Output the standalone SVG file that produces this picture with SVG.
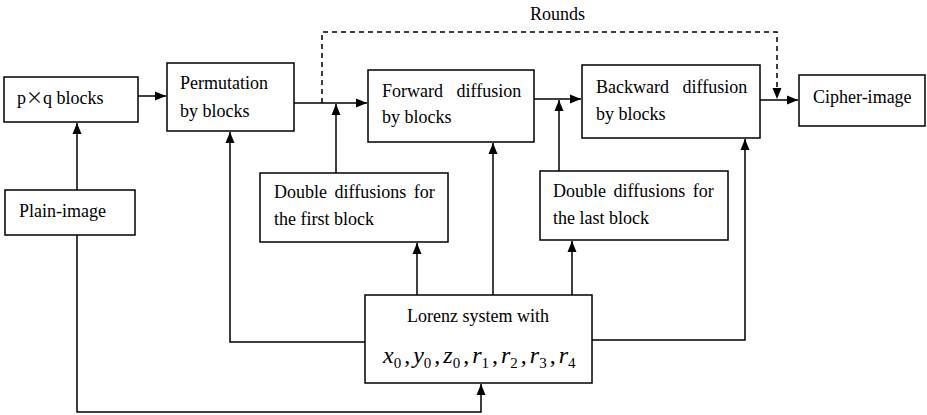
<svg xmlns="http://www.w3.org/2000/svg" width="927" height="415" viewBox="0 0 927 415">
<defs>
<marker id="ah" markerUnits="userSpaceOnUse" markerWidth="12" markerHeight="10" refX="11" refY="5" orient="auto">
<path d="M0,0.5 L11,5 L0,9.5 z" fill="#000"/>
</marker>
<style>
.box{fill:#fff;stroke:#000;stroke-width:1.5}
.ln{fill:none;stroke:#000;stroke-width:1.5}
.dash{fill:none;stroke:#000;stroke-width:1.5;stroke-dasharray:5 4}
text{font-family:'Liberation Serif','Times New Roman',serif;font-size:18px;fill:#000}
.sub{font-size:15px;font-style:normal}
.cm{font-style:normal}
</style>
</defs>
<rect width="927" height="415" fill="#fff"/>
<g id="connectors">
<path class="ln" d="M138,96 H166" marker-end="url(#ah)"/>
<path class="ln" d="M77,190 V123" marker-end="url(#ah)"/>
<path class="ln" d="M294,103 H367" marker-end="url(#ah)"/>
<path class="ln" d="M534,99 H581" marker-end="url(#ah)"/>
<path class="ln" d="M760,100 H798" marker-end="url(#ah)"/>
<path class="dash" d="M322,103 V32 H777 V99" marker-end="url(#ah)"/>
<path class="ln" d="M336,173 V104" marker-end="url(#ah)"/>
<path class="ln" d="M559,171 V100" marker-end="url(#ah)"/>
<path class="ln" d="M417,295 V243" marker-end="url(#ah)"/>
<path class="ln" d="M493,295 V143" marker-end="url(#ah)"/>
<path class="ln" d="M572,295 V241" marker-end="url(#ah)"/>
<path class="ln" d="M365,342 H230 V132" marker-end="url(#ah)"/>
<path class="ln" d="M592,340 H745 V139" marker-end="url(#ah)"/>
<path class="ln" d="M77,235 V412 H481 V384" marker-end="url(#ah)"/>
</g>
<text x="530" y="20">Rounds</text>
<g id="pq">
<rect class="box" x="4" y="77" width="134" height="45"/>
<text x="17" y="104">p<tspan style="font-family:'Noto Sans CJK SC',sans-serif;font-size:17px">×</tspan>q blocks</text>
</g>
<g id="plain">
<rect class="box" x="5" y="190" width="130" height="45"/>
<text x="19" y="217">Plain-image</text>
</g>
<g id="perm">
<rect class="box" x="167" y="63" width="127" height="68"/>
<text x="180" y="89">Permutation</text>
<text x="180" y="117">by blocks</text>
</g>
<g id="forward">
<rect class="box" x="368" y="70" width="166" height="72"/>
<text x="382" y="97" word-spacing="9">Forward diffusion</text>
<text x="382" y="123">by blocks</text>
</g>
<g id="backward">
<rect class="box" x="582" y="65" width="178" height="73"/>
<text x="596" y="93" word-spacing="9">Backward diffusion</text>
<text x="596" y="120">by blocks</text>
</g>
<g id="cipher">
<rect class="box" x="799" y="75" width="126" height="51"/>
<text x="813" y="103">Cipher-image</text>
</g>
<g id="dfirst">
<rect class="box" x="260" y="173" width="188" height="69"/>
<text x="274" y="198" word-spacing="3">Double diffusions for</text>
<text x="274" y="225">the first block</text>
</g>
<g id="dlast">
<rect class="box" x="540" y="171" width="188" height="69"/>
<text x="553" y="197" word-spacing="3">Double diffusions for</text>
<text x="553" y="224">the last block</text>
</g>
<g id="lorenz">
<rect class="box" x="365" y="295" width="227" height="88"/>
<text x="478" y="322" text-anchor="middle">Lorenz system with</text>
<text x="383" y="363" style="font-size:24px;font-style:italic">x<tspan class="sub" dy="5">0</tspan><tspan class="cm" dy="-5" dx="3">,</tspan><tspan dx="3">y</tspan><tspan class="sub" dy="5">0</tspan><tspan class="cm" dy="-5" dx="3">,</tspan><tspan dx="3">z</tspan><tspan class="sub" dy="5">0</tspan><tspan class="cm" dy="-5" dx="3">,</tspan><tspan dx="3">r</tspan><tspan class="sub" dy="5">1</tspan><tspan class="cm" dy="-5" dx="3">,</tspan><tspan dx="3">r</tspan><tspan class="sub" dy="5">2</tspan><tspan class="cm" dy="-5" dx="3">,</tspan><tspan dx="3">r</tspan><tspan class="sub" dy="5">3</tspan><tspan class="cm" dy="-5" dx="3">,</tspan><tspan dx="3">r</tspan><tspan class="sub" dy="5">4</tspan></text>
</g>
</svg>
